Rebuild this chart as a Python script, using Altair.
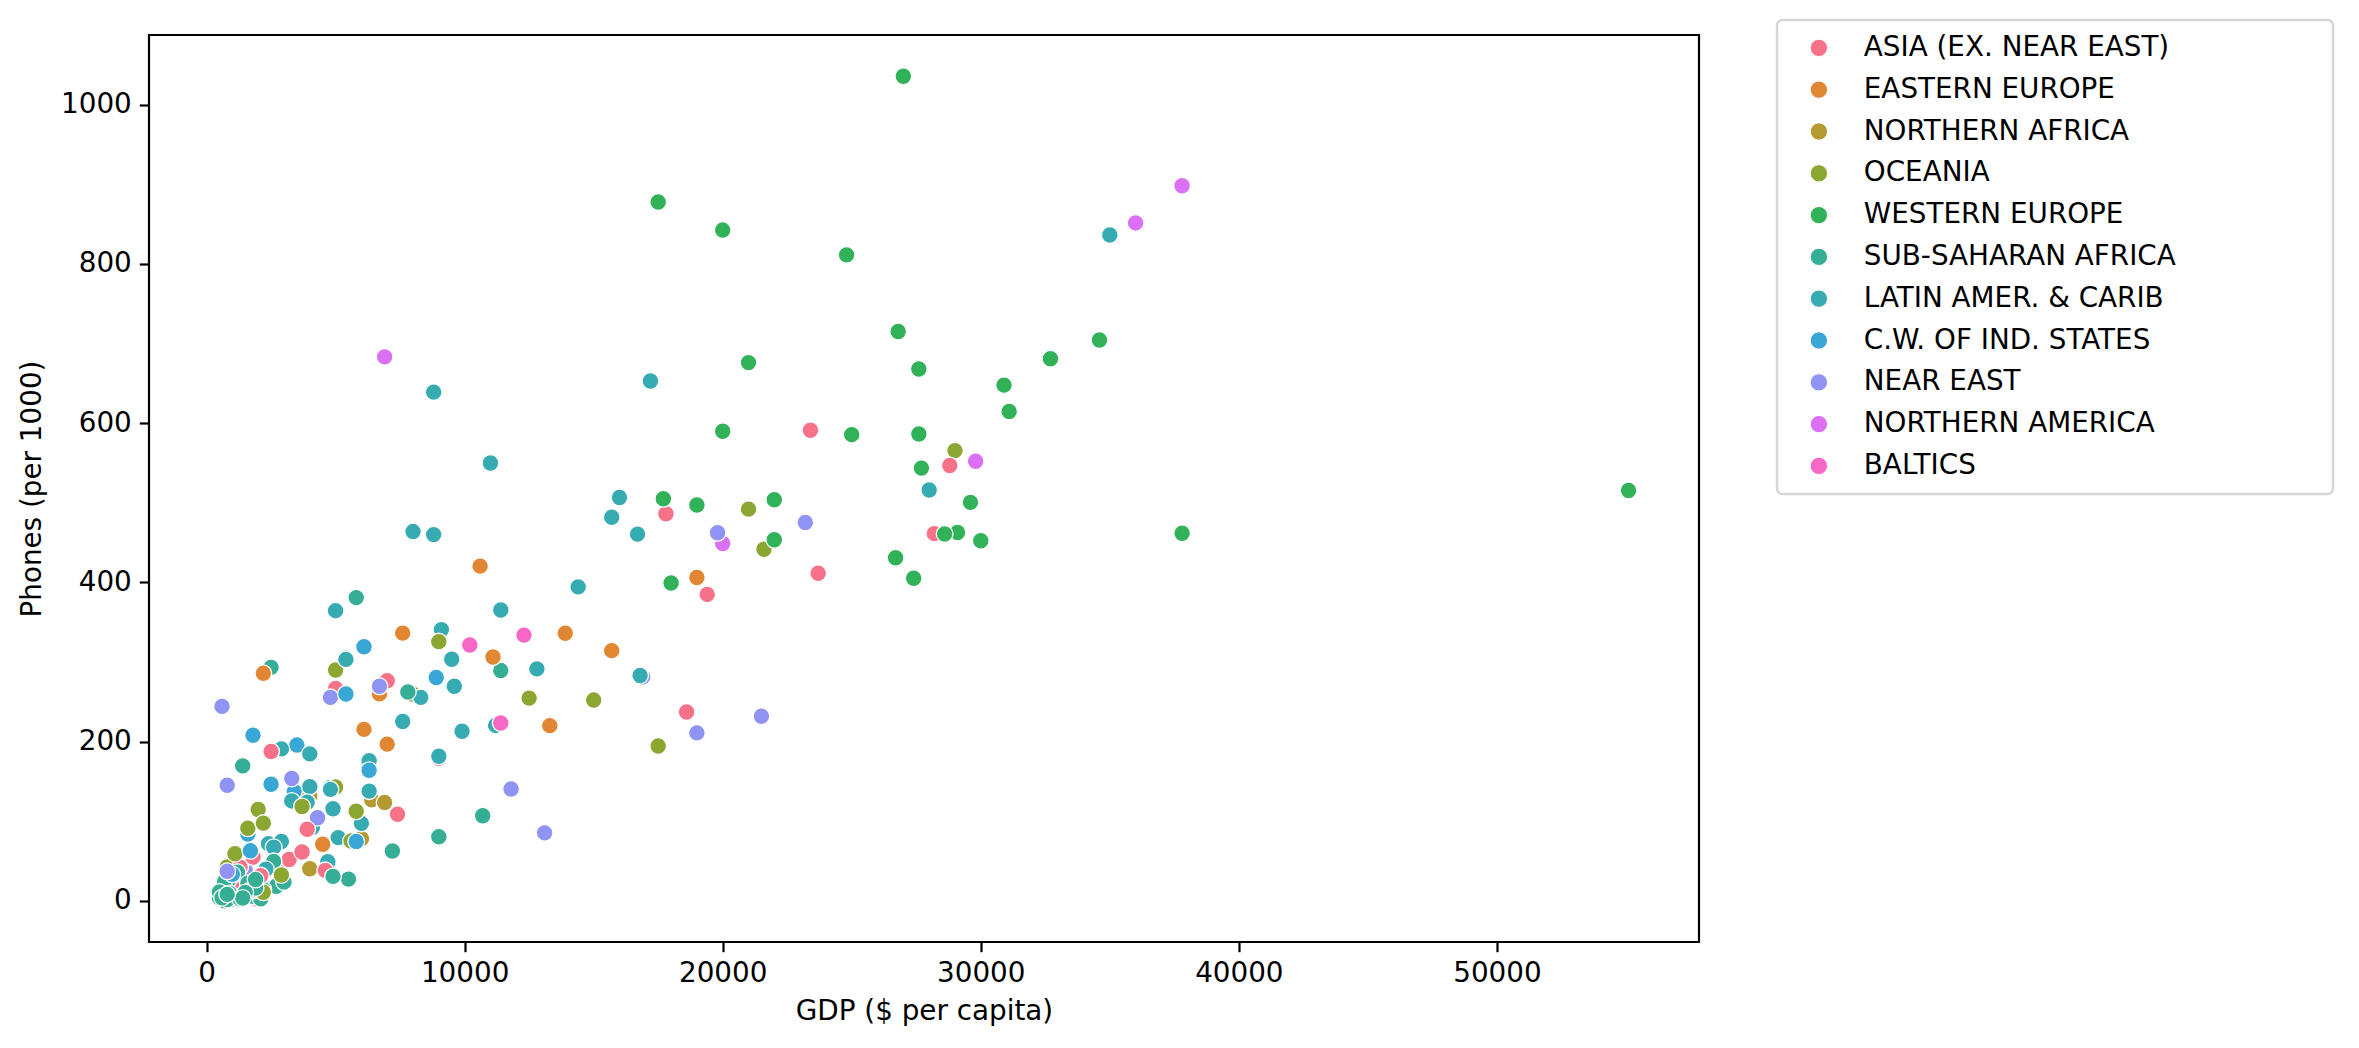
import math
import altair as alt
import pandas as pd

# ---------------- data ----------------
region_order = [
    "ASIA (EX. NEAR EAST)", "EASTERN EUROPE", "NORTHERN AFRICA", "OCEANIA",
    "WESTERN EUROPE", "SUB-SAHARAN AFRICA", "LATIN AMER. & CARIB",
    "C.W. OF IND. STATES", "NEAR EAST", "NORTHERN AMERICA", "BALTICS",
]

asia_names = ["Afghanistan", "Bangladesh", "Bhutan", "Brunei", "Burma", "Cambodia", "China",
              "Hong Kong", "India", "Indonesia", "Iran", "Japan", "Korea, North", "Korea, South",
              "Laos", "Macau", "Malaysia", "Maldives", "Mongolia", "Nepal", "Pakistan",
              "Philippines", "Singapore", "Sri Lanka", "Taiwan", "Thailand", "Vietnam"]
asia_gdp = [700, 1900, 1300, 18600, 1800, 1900, 5000, 28800, 2900, 3200, 7000, 28200, 1300, 17800,
            1700, 19400, 9000, 3900, 1800, 1400, 2100, 4600, 23700, 3700, 23400, 7400, 2500]
asia_phones = [3.2, 7.3, 14.3, 237.2, 10.1, 2.6, 266.7, 546.7, 45.4, 52.0, 276.4, 461.2, 42.4, 486.1,
               14.1, 384.9, 179.0, 90.0, 55.1, 15.9, 31.8, 38.4, 411.4, 61.5, 591.0, 108.9, 187.7]

eeu_names = ["Albania", "Bosnia & Herzegovina", "Bulgaria", "Croatia", "Czech Republic", "Hungary",
             "Macedonia", "Poland", "Romania", "Serbia", "Slovakia", "Slovenia"]
eeu_gdp = [4500, 6100, 7600, 10600, 15700, 13900, 6700, 11100, 7000, 2200, 13300, 19000]
eeu_phones = [71.2, 215.4, 336.3, 420.4, 314.3, 336.2, 260.0, 306.3, 196.9, 285.8, 220.1, 406.1]

naf_names = ["Algeria", "Egypt", "Libya", "Morocco", "Tunisia"]
naf_gdp = [6000, 4000, 6400, 4000, 6900]
naf_phones = [78.1, 131.8, 127.1, 40.4, 123.6]

oce_names = ["American Samoa", "Australia", "Cook Islands", "Fiji", "French Polynesia", "Guam",
             "Kiribati", "Marshall Islands", "Micronesia", "Nauru", "New Caledonia", "New Zealand",
             "N. Mariana Islands", "Palau", "Papua New Guinea", "Samoa", "Solomon Islands", "Tonga",
             "Tuvalu", "Vanuatu", "Wallis and Futuna"]
oce_gdp = [8000, 29000, 5000, 5800, 17500, 21000, 800, 1600, 2000, 5000, 15000, 21600,
           12500, 9000, 2200, 5600, 1700, 2200, 1100, 2900, 3700]
oce_phones = [259.5, 565.5, 289.9, 112.6, 194.5, 492.0, 42.7, 91.2, 114.8, 143.0, 252.2, 441.7,
              254.7, 325.6, 10.9, 75.2, 13.4, 97.7, 59.3, 32.6, 118.6]

weu_names = ["Andorra", "Austria", "Belgium", "Denmark", "Faroe Islands", "Finland", "France",
             "Germany", "Gibraltar", "Greece", "Guernsey", "Iceland", "Ireland", "Isle of Man",
             "Italy", "Jersey", "Liechtenstein", "Luxembourg", "Malta", "Monaco", "Netherlands",
             "Norway", "Portugal", "San Marino", "Spain", "Sweden", "Switzerland", "United Kingdom"]
weu_gdp = [19000, 30000, 29100, 31100, 22000, 27400, 27600, 27600, 17500, 20000, 20000, 30900,
           29600, 21000, 26700, 24800, 25000, 55100, 17700, 27000, 28600, 37800, 18000, 34600,
           22000, 26800, 32700, 27700]
weu_phones = [497.2, 452.2, 462.6, 614.6, 503.8, 405.3, 586.4, 667.9, 877.7, 589.7, 842.4, 647.7,
              500.5, 676.0, 430.9, 811.3, 585.5, 515.4, 505.0, 1035.6, 460.8, 461.7, 399.2, 704.3,
              453.5, 715.0, 680.9, 543.5]

ssa_names = ["Angola", "Benin", "Botswana", "Burkina Faso", "Burundi", "Cameroon", "Cape Verde",
             "Central African Rep.", "Chad", "Comoros", "Congo, Dem. Rep.", "Congo, Repub. of the",
             "Cote d'Ivoire", "Djibouti", "Equatorial Guinea", "Eritrea", "Ethiopia", "Gabon",
             "Gambia, The", "Ghana", "Guinea", "Guinea-Bissau", "Kenya", "Lesotho", "Liberia",
             "Madagascar", "Malawi", "Mali", "Mauritania", "Mauritius", "Mayotte", "Mozambique",
             "Namibia", "Niger", "Nigeria", "Reunion", "Rwanda", "Saint Helena", "Sao Tome & Principe",
             "Senegal", "Seychelles", "Sierra Leone", "Somalia", "South Africa", "Sudan", "Swaziland",
             "Tanzania", "Togo", "Uganda", "Zambia", "Zimbabwe"]
ssa_gdp = [1900, 1100, 9000, 1100, 600, 1800, 1400, 1100, 1200, 700, 700, 700, 1400, 1300, 2700,
           700, 700, 5500, 1700, 2200, 2100, 800, 1000, 3000, 1000, 800, 600, 900, 1800, 11400,
           2600, 1200, 7200, 800, 900, 5800, 1300, 2500, 1200, 1600, 7800, 500, 500, 10700, 1900,
           4900, 600, 1500, 1400, 800, 1900]
ssa_phones = [7.8, 9.7, 80.5, 7.0, 3.4, 5.7, 169.6, 2.3, 1.3, 24.5, 0.2, 3.7, 14.6, 22.8, 18.5,
              7.9, 8.2, 27.4, 26.8, 14.4, 2.6, 7.4, 8.1, 23.7, 2.3, 3.6, 7.9, 6.4, 13.1, 289.3,
              49.7, 3.5, 62.6, 1.9, 9.3, 380.9, 2.7, 293.3, 36.2, 22.2, 262.4, 4.0, 11.3, 107.0, 16.3,
              30.8, 4.0, 10.6, 3.6, 8.2, 26.8]

lat_names = ["Anguilla", "Antigua & Barbuda", "Argentina", "Aruba", "Bahamas, The", "Barbados",
             "Belize", "Bolivia", "Brazil", "British Virgin Is.", "Cayman Islands", "Chile",
             "Colombia", "Costa Rica", "Cuba", "Dominica", "Dominican Republic", "Ecuador",
             "El Salvador", "French Guiana", "Grenada", "Guadeloupe", "Guatemala", "Guyana", "Haiti",
             "Honduras", "Jamaica", "Martinique", "Mexico", "Netherlands Antilles", "Nicaragua",
             "Panama", "Paraguay", "Peru", "Puerto Rico", "Saint Kitts & Nevis", "Saint Lucia",
             "Saint Vincent", "Suriname", "Trinidad & Tobago", "Turks & Caicos Is", "Uruguay",
             "Venezuela", "Virgin Islands"]
lat_gdp = [8800, 11000, 11200, 28000, 16700, 15700, 4900, 2400, 7600, 16000, 35000, 9900, 6300,
           9100, 2900, 5400, 6000, 3300, 4800, 8300, 5000, 8000, 4100, 4000, 1600, 2600, 3900,
           14400, 9000, 11400, 2300, 6300, 4700, 5100, 16800, 8800, 5400, 2900, 4000, 9500, 9600,
           12800, 4800, 17200]
lat_phones = [460.0, 549.9, 220.4, 516.1, 460.6, 481.9, 115.7, 71.9, 225.3, 506.5, 836.3, 213.0,
              176.2, 340.7, 74.7, 304.8, 97.4, 125.6, 142.4, 255.6, 364.5, 463.8, 92.1, 143.5, 16.9,
              67.5, 124.0, 394.4, 181.6, 365.3, 39.7, 137.9, 49.2, 79.5, 283.1, 638.9, 303.3, 190.9,
              184.7, 303.5, 269.5, 291.4, 140.1, 652.8]

cis_names = ["Armenia", "Azerbaijan", "Belarus", "Georgia", "Kazakhstan", "Kyrgyzstan", "Moldova",
             "Russia", "Tajikistan", "Turkmenistan", "Ukraine", "Uzbekistan"]
cis_gdp = [3500, 3400, 6100, 2500, 6300, 1600, 1800, 8900, 1000, 5800, 5400, 1700]
cis_phones = [195.7, 137.1, 319.1, 146.6, 164.1, 84.0, 208.1, 280.6, 33.5, 74.6, 259.9, 62.9]

ne_names = ["Bahrain", "Gaza Strip", "Iraq", "Israel", "Jordan", "Kuwait", "Lebanon", "Oman",
            "Qatar", "Saudi Arabia", "Syria", "Turkey", "United Arab Emirates", "West Bank", "Yemen"]
ne_gdp = [16900, 600, 1500, 19800, 4300, 19000, 4800, 13100, 21500, 11800, 3300, 6700, 23200, 800, 800]
ne_phones = [281.3, 244.3, 38.6, 462.3, 104.5, 211.0, 255.6, 85.5, 232.0, 140.6, 153.8, 269.5,
             475.3, 145.2, 37.2]

nam_names = ["Bermuda", "Canada", "Greenland", "St Pierre & Miquelon", "United States"]
nam_gdp = [36000, 29800, 20000, 6900, 37800]
nam_phones = [851.4, 552.2, 448.9, 683.2, 898.0]

bal_names = ["Estonia", "Latvia", "Lithuania"]
bal_gdp = [12300, 10200, 11400]
bal_phones = [333.8, 321.4, 223.4]

groups = [
    (region_order[0], asia_names, asia_gdp, asia_phones),
    (region_order[1], eeu_names, eeu_gdp, eeu_phones),
    (region_order[2], naf_names, naf_gdp, naf_phones),
    (region_order[3], oce_names, oce_gdp, oce_phones),
    (region_order[4], weu_names, weu_gdp, weu_phones),
    (region_order[5], ssa_names, ssa_gdp, ssa_phones),
    (region_order[6], lat_names, lat_gdp, lat_phones),
    (region_order[7], cis_names, cis_gdp, cis_phones),
    (region_order[8], ne_names, ne_gdp, ne_phones),
    (region_order[9], nam_names, nam_gdp, nam_phones),
    (region_order[10], bal_names, bal_gdp, bal_phones),
]

rows = []
for reg, names, g, p in groups:
    assert len(names) == len(g) == len(p), reg
    for n, gv, pv in zip(names, g, p):
        rows.append({"Country": n, "Region": reg, "GDP": gv, "Phones": pv})
df = pd.DataFrame(rows).sort_values("Country").reset_index(drop=True)

# ---------------- husl palette (seaborn default for 11 hues) ----------------
_m = [[3.2406, -1.5372, -0.4986], [-0.9689, 1.8758, 0.0415], [0.0557, -0.2040, 1.0570]]
_refU, _refV = 0.19784, 0.46834


def _max_chroma(L, H):
    hrad = math.radians(H)
    sinH, cosH = math.sin(hrad), math.cos(hrad)
    sub1 = (L + 16) ** 3 / 1560896.0
    sub2 = sub1 if sub1 > 0.008856 else L / 903.3
    result = float("inf")
    for m1, m2, m3 in _m:
        top = (0.99915 * m1 + 1.05122 * m2 + 1.14460 * m3) * sub2
        rbottom = 0.86330 * m3 - 0.17266 * m2
        lbottom = 0.12949 * m3 - 0.38848 * m1
        bottom = (rbottom * sinH + lbottom * cosH) * sub2
        for t in (0.0, 1.0):
            C = L * (top - 1.05122 * t) / (bottom + 0.17266 * sinH * t)
            if 0.0 < C < result:
                result = C
    return result


def _husl_to_hex(H, S, L):
    C = _max_chroma(L, H) / 100.0 * S
    hr = math.radians(H)
    U, V = math.cos(hr) * C, math.sin(hr) * C
    t = (L + 16.0) / 116.0
    Y = t ** 3 if t ** 3 > 0.008856 else (116.0 * t - 16.0) / 903.3
    varU = U / (13.0 * L) + _refU
    varV = V / (13.0 * L) + _refV
    X = 0.0 - (9.0 * Y * varU) / ((varU - 4.0) * varV - varU * varV)
    Z = (9.0 * Y - (15.0 * varV * Y) - (varV * X)) / (3.0 * varV)
    out = []
    for r in _m:
        c = r[0] * X + r[1] * Y + r[2] * Z
        c = 12.92 * c if c <= 0.0031308 else 1.055 * c ** (1 / 2.4) - 0.055
        c = min(max(c, 0.0), 1.0)
        out.append(int(round(c * 255)))
    return "#%02x%02x%02x" % tuple(out)


n = len(region_order)
palette = []
for i in range(n):
    h = ((i / n) + 0.01) % 1 * 359
    palette.append(_husl_to_hex(h, 0.9 * 99, 0.65 * 99))

# ---------------- scales (matplotlib-like 5% margins) ----------------
gmin, gmax = df["GDP"].min(), df["GDP"].max()
pmin, pmax = df["Phones"].min(), df["Phones"].max()
xdom = [gmin - 0.05 * (gmax - gmin), gmax + 0.05 * (gmax - gmin)]
ydom = [pmin - 0.05 * (pmax - pmin), pmax + 0.05 * (pmax - pmin)]

FONT = "DejaVu Sans"
FS = 27.8
PLOT_L, PLOT_T = 141, 27
W, H = 1550, 907
# blank (non-whitespace) filler so the legend frame keeps the original's wide box
BLANK_PAD = "\u2800" * 7

chart = alt.Chart(df).mark_circle(
    size=280, opacity=1, stroke="white", strokeWidth=1.3
).encode(
    x=alt.X("GDP:Q", title="GDP ($ per capita)",
            scale=alt.Scale(domain=xdom, nice=False, zero=False),
            axis=alt.Axis(values=[0, 10000, 20000, 30000, 40000, 50000], format="d",
                          labelPadding=8, titlePadding=10)),
    y=alt.Y("Phones:Q", title="Phones (per 1000)",
            scale=alt.Scale(domain=ydom, nice=False, zero=False),
            axis=alt.Axis(values=[0, 200, 400, 600, 800, 1000], format="d",
                          labelPadding=8, titlePadding=14)),
    color=alt.Color("Region:N", sort=region_order,
                    scale=alt.Scale(domain=region_order, range=palette),
                    legend=alt.Legend(
                        title=None, orient="none",
                        legendX=1777 - 149, legendY=20 - 35,
                        labelFont=FONT, labelFontSize=FS, labelColor="black",
                        labelLimit=0, labelOffset=31,
                        labelExpr="datum.label + '" + BLANK_PAD + "'",
                        symbolType="circle", symbolSize=300, symbolOpacity=1,
                        symbolStrokeColor="white", symbolStrokeWidth=1,
                        symbolOffset=14)),
).properties(
    width=W, height=H,
    padding={"left": PLOT_L, "top": PLOT_T, "right": 650, "bottom": 100},
    autosize=alt.AutoSizeParams(type="none"),
).configure_view(
    stroke="black", strokeWidth=2.2
).configure_axis(
    grid=False, domain=False,
    labelFont=FONT, labelFontSize=FS, labelColor="black",
    titleFont=FONT, titleFontSize=FS, titleColor="black", titleFontWeight="normal",
    tickColor="black", tickWidth=2.2, tickSize=9.7,
).configure_legend(
    rowPadding=12.8, padding=14,
    strokeColor="#d6d6d6", strokeWidth=2.5, cornerRadius=5.6,
    fillColor="white",
)

chart.save("out.html", embed_options={"renderer": "svg", "actions": False})
